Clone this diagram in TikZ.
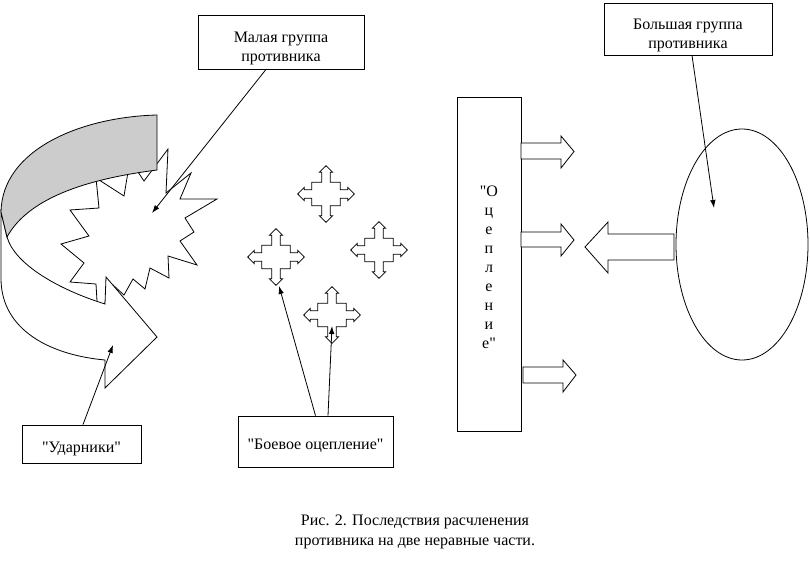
\documentclass[tikz,border=0pt]{standalone}
\usepackage{fontspec}
\setmainfont{Liberation Serif}[Ligatures=TeXOff]
\usetikzlibrary{arrows.meta,calc}
\newcommand\fourarr[1]{\draw[shp,shift={#1}] (0,-28.3) -- (6.7,-21.7) -- (4.3,-21.7) -- (4.3,-11.7) -- (14.3,-11.7) -- (14.3,-4.3) -- (21.7,-4.3) -- (21.7,-6.7) -- (28.3,0) -- (21.7,6.7) -- (21.7,4.3) -- (14.3,4.3) -- (14.3,11.7) -- (4.3,11.7) -- (4.3,21.7) -- (6.7,21.7) -- (0,28.3) -- (-6.7,21.7) -- (-4.3,21.7) -- (-4.3,11.7) -- (-14.3,11.7) -- (-14.3,4.3) -- (-21.7,4.3) -- (-21.7,6.7) -- (-28.3,0) -- (-21.7,-6.7) -- (-21.7,-4.3) -- (-14.3,-4.3) -- (-14.3,-11.7) -- (-4.3,-11.7) -- (-4.3,-21.7) -- (-6.7,-21.7) -- cycle;}
\begin{document}
\begin{tikzpicture}[x=1pt,y=-1pt, line width=0.8pt,
  txt/.style={font=\fontsize{16}{19}\selectfont, align=center, inner sep=0pt},
  box/.style={draw, fill=white, inner sep=0pt},
  conn/.style={-{Latex[length=8pt,width=5.5pt]}, line width=0.8pt},
  shp/.style={draw, fill=white, line width=0.8pt, line join=miter}]
\useasboundingbox (0,0) rectangle (810,561);
% star (small enemy group)
\draw[shp] (130,160) -- (144,181) -- (168,149) -- (166,193) -- (191,173) -- (180,199) -- (217,199) -- (185,218) -- (194,232) -- (180,241) -- (197,265) -- (168,256) -- (169,278) -- (150,268) -- (145,289) -- (133,279) -- (124,295) -- (113,285) -- (98,318) -- (96,284) -- (70,282) -- (84,263) -- (61,244) -- (89,236) -- (70,210) -- (99,208) -- (96,178) -- (124,196) -- cycle;
% curved arrow, lower (white) side
\draw[shp] (1,212) -- (1,280) .. controls (2,330) and (50,355) .. (105,360) -- (105,388) -- (157,337) -- (106,277) -- (105,304) .. controls (60,290) and (15,265) .. (7,237) -- cycle;
% curved arrow, upper (grey) side
\draw[shp, fill=gray!40] (157,115) .. controls (80,117) and (2,150) .. (1,212) -- (7,237) .. controls (30,195) and (95,178) .. (157,170) -- cycle;
% four-way arrows
\fourarr{(326,194)}
\fourarr{(379,250)}
\fourarr{(276,257)}
\fourarr{(332,315)}
% boxes
\node[box, minimum width=166pt, minimum height=54pt] (mal) at (281,42) {};
\node[txt] (malt) at ([yshift=-6pt]mal.center) {Малая группа\\противника};
\node[box, minimum width=168pt, minimum height=52pt] (big) at (688,29) {};
\node[txt] (bigt) at ([yshift=-6pt]big.center) {Большая группа\\противника};
\node[box, minimum width=119pt, minimum height=38pt] (udar) at (81.5,444) {};
\node[txt] (udart) at ([yshift=-5pt]udar.center) {"Ударники"};
\node[box, minimum width=155pt, minimum height=51pt] (boev) at (315.5,441.5) {};
\node[txt] (boevt) at ([yshift=-4.5pt]boev.center) {"Боевое оцепление"};
\node[draw, minimum width=64pt, minimum height=334pt, inner sep=0pt] (ocep) at (489,264) {};
\node[txt] (ocept) at (489,267) {"О\\ц\\е\\п\\л\\е\\н\\и\\е"};
% block arrows
\draw[shp] (521,143) -- (561,143) -- (561,136) -- (574,151.5) -- (561,168) -- (561,159) -- (521,159) -- cycle;
\draw[shp] (521,232) -- (561,232) -- (561,224) -- (574,240) -- (561,256) -- (561,247) -- (521,247) -- cycle;
\draw[shp] (523,367) -- (563,367) -- (563,360) -- (576,375) -- (563,392) -- (563,383) -- (523,383) -- cycle;
\draw[shp] (674,234) -- (608,234) -- (608,222) -- (585,247) -- (608,273) -- (608,260) -- (674,260) -- cycle;
% big enemy group
\draw (742,244.5) ellipse [x radius=66pt, y radius=115.5pt];
% target points
\coordinate (starC) at (152,213);
\coordinate (ellC) at (714,208);
\coordinate (udarT) at (113,345);
\coordinate (crossL) at (279,286);
\coordinate (crossB) at (332,326);
% connectors
\draw[conn] ([xshift=-15pt]mal.south) -- (starC);
\draw[conn] ([xshift=4pt]big.south) -- (ellC);
\draw[conn] ([xshift=1.5pt]udar.north) -- (udarT);
\draw[conn] (boev.north) -- (crossL);
\draw[conn] ([xshift=12.5pt]boev.north) -- (crossB);
% caption
\node[txt, font=\fontsize{16}{20}\selectfont] (cap) at (415,532) {Рис. 2. Последствия расчленения\\противника на две неравные части.};
\end{tikzpicture}
\end{document}
